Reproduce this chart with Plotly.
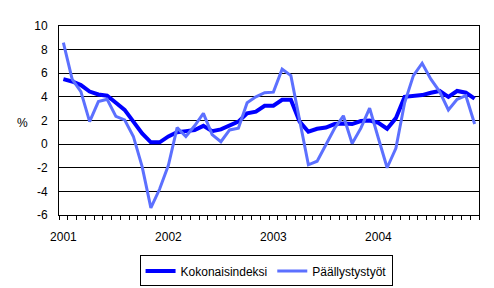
import plotly.graph_objects as go

months = list(range(48))
year_ticks = [0, 12, 24, 36]
year_labels = ["2001", "2002", "2003", "2004"]
y_ticks = [-6, -4, -2, 0, 2, 4, 6, 8, 10]
y_labels = ["-6", "-4", "-2", "0", "2", "4", "6", "8", "10"]

kokonaisindeksi = [
    5.5, 5.3, 5.0, 4.45, 4.2, 4.1, 3.5, 2.9, 1.9, 0.9, 0.15, 0.15,
    0.65, 1.0, 1.1, 1.2, 1.55, 1.1, 1.25, 1.6, 1.9, 2.6, 2.75, 3.25,
    3.25, 3.75, 3.75, 1.9, 1.05, 1.3, 1.4, 1.7, 1.75, 1.7, 1.95, 2.0,
    1.8, 1.3, 2.2, 4.0, 4.1, 4.15, 4.35, 4.5, 4.0, 4.5, 4.35, 3.85,
]
paallystystyot = [
    8.6, 5.5, 4.45, 1.9, 3.6, 3.8, 2.35, 2.05, 0.65, -1.9, -5.4, -3.8,
    -1.8, 1.4, 0.65, 1.55, 2.6, 0.8, 0.2, 1.2, 1.35, 3.5, 4.0, 4.35,
    4.4, 6.35, 5.8, 2.0, -1.75, -1.45, 0.0, 1.35, 2.4, 0.05, 1.35, 3.05,
    0.5, -2.0, -0.35, 3.5, 5.8, 6.85, 5.5, 4.45, 2.9, 3.8, 4.1, 1.7,
]

font = "Arial, Liberation Sans, sans-serif"

fig = go.Figure()
fig.add_trace(go.Scatter(
    x=months, y=kokonaisindeksi, mode="lines", name="Kokonaisindeksi",
    line=dict(color="#0000FF", width=4),
))
fig.add_trace(go.Scatter(
    x=months, y=paallystystyot, mode="lines", name="Päällystystyöt",
    line=dict(color="#5c70ff", width=3),
))

fig.update_layout(
    width=494, height=288,
    margin=dict(l=59, r=15, t=26, b=73, autoexpand=False),
    paper_bgcolor="white", plot_bgcolor="white",
    font=dict(family=font, size=12, color="black"),
    showlegend=True,
    legend=dict(
        orientation="h", x=0.493, xanchor="center", y=-0.296, yanchor="middle",
        bordercolor="black", borderwidth=1, bgcolor="white",
        font=dict(family=font, size=12, color="black"),
        itemwidth=30, tracegroupgap=0,
    ),
    xaxis=dict(
        range=[-0.5, 47.5], tickmode="array", tickvals=year_ticks, ticktext=year_labels,
        ticks="", showgrid=False, zeroline=False,
        showline=True, linecolor="black", linewidth=1, mirror=True,
        tickfont=dict(family=font, size=12, color="black"),
        ticklabelstandoff=11,
        minor=dict(tickmode="linear", tick0=-0.5, dtick=1, ticks="outside",
                   ticklen=4, tickcolor="black", showgrid=False),
    ),
    yaxis=dict(
        range=[-6, 10], tickmode="array", tickvals=y_ticks, ticktext=y_labels,
        showgrid=True, gridcolor="black", gridwidth=1, zeroline=False,
        showline=True, linecolor="black", linewidth=1, mirror=True,
        ticks="", tickfont=dict(family=font, size=12, color="black"),
        ticklabelstandoff=8,
    ),
    annotations=[dict(
        text="%", xref="paper", yref="y", x=-0.086, xanchor="center", y=1.8,
        showarrow=False, font=dict(family=font, size=12, color="black"),
    )],
)

fig.write_html("out.html")
